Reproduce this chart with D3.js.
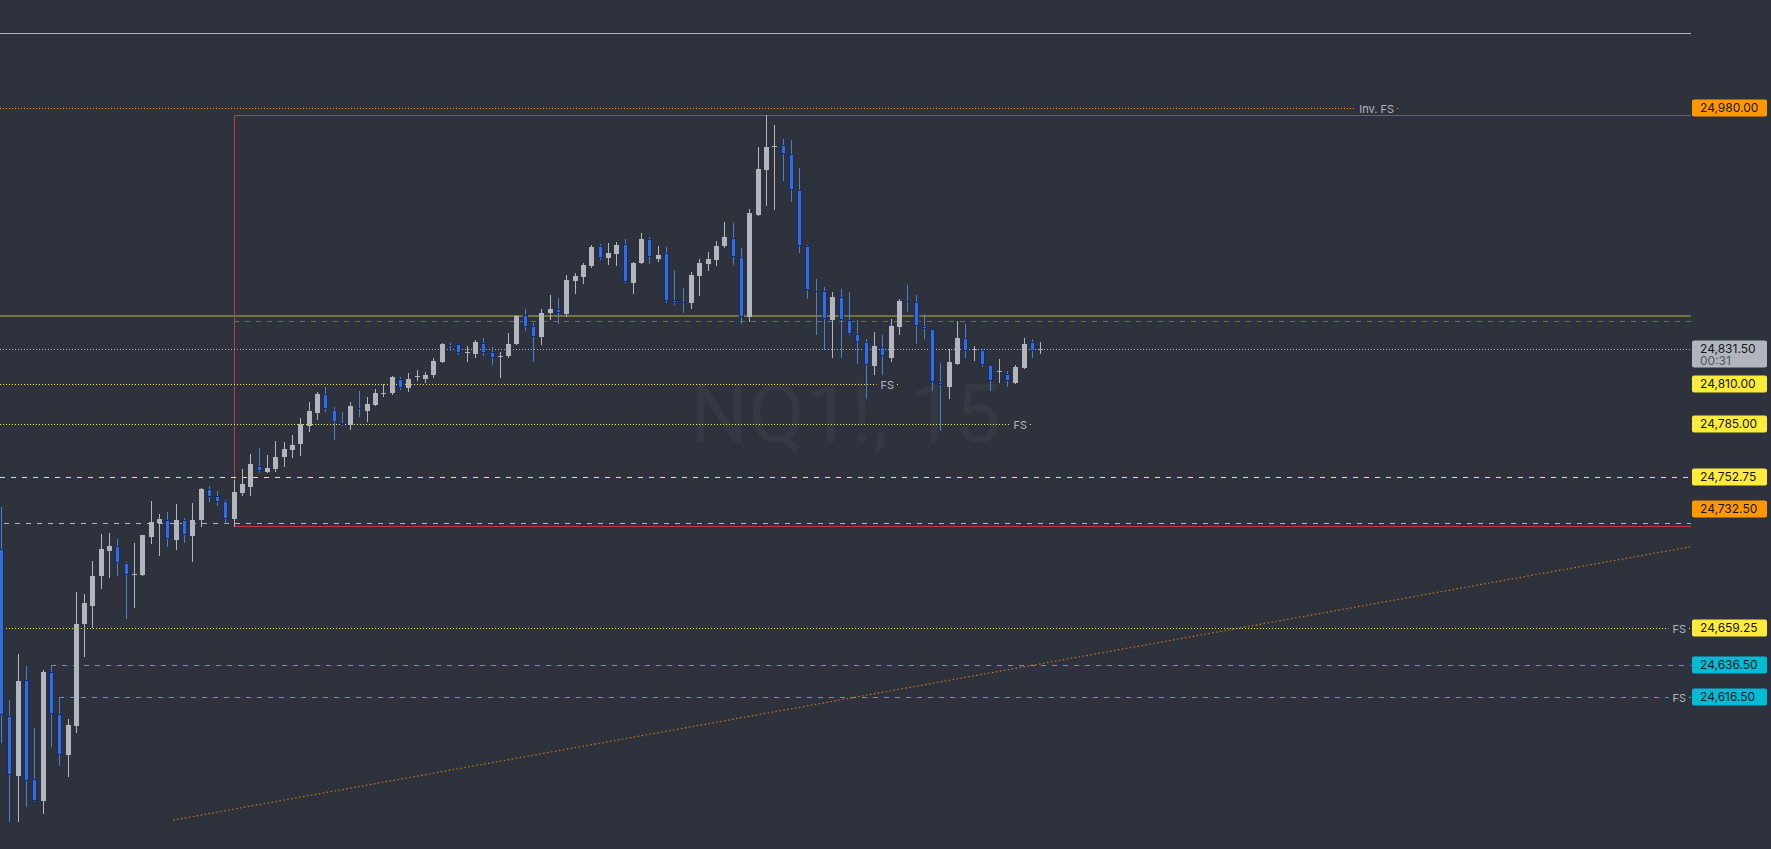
<!DOCTYPE html>
<html>
<head>
<meta charset="utf-8">
<script src="https://cdn.jsdelivr.net/npm/d3@7"></script>
<style>
  html, body { margin: 0; padding: 0; background: #2e323c; overflow: hidden; }
  svg { display: block; }
</style>
</head>
<body>
<svg id="chart" width="1771" height="849"></svg>
<script>
// NQ1! 15-minute candles (oldest first)
const opens = [24707.75,24605.25,24568,24627.25,24566,24552.75,24632,24606,24581,24598.5,
  24662,24673,24691.5,24707,24709.75,24699.25,24692.25,24692.25,24715.5,24724,
  24725.75,24713.75,24725.75,24716.25,24726,24745,24740.5,24737.5,24726.5,24742.75,
  24746.5,24759.25,24755.5,24757.5,24765,24769.25,24772.75,24784,24792.25,24803.5,
  24794,24785.75,24784.75,24794.75,24793.5,24797,24804.25,24804.5,24813.25,24807.5,
  24814.5,24813,24815.5,24823.5,24834,24834.25,24829.25,24828.25,24835,24829.5,
  24827,24827,24834.75,24852.25,24845.5,24839,24853.75,24856.25,24853,24873.5,
  24876,24882.75,24895,24887.5,24890,24896.25,24872.25,24884.5,24899.25,24887,
  24890.75,24861.75,24860.25,24860,24876.5,24884,24886.5,24895,24900,24888,
  24851.5,24914.25,24942,24956.75,24957.25,24951.5,24929.5,24894.75,24867.25,24867,
  24849.5,24863.25,24849.25,24841,24835.5,24821.25,24832.5,24826,24845.25,24861,
  24860.25,24845.5,24843.5,24811,24808.25,24822.5,24838,24831,24830.75,24821.75,
  24817.5,24816.25,24810.75,24820,24835.5,24831.25];
const highs = [24734,24614.75,24643.25,24635.75,24597.75,24633.25,24636.25,24616.5,24603,24681.25,
  24680.25,24700.5,24717.25,24718,24714.25,24700,24711.75,24716.75,24737.75,24729.5,
  24730.75,24735.75,24727.25,24736.5,24745.75,24747,24743.75,24738,24750.5,24757.5,
  24766.75,24770.25,24766,24774.75,24774,24778.5,24789,24798.75,24804.75,24808,
  24795.5,24792.5,24798.75,24805.5,24801.75,24806.75,24809.75,24814.75,24814,24816.75,
  24818.5,24817.25,24826,24835.25,24835.25,24834.5,24833.25,24837,24838.25,24832.75,
  24829.5,24841.25,24852.5,24856.25,24847.5,24856.25,24864.75,24863,24877,24878.25,
  24884.5,24895.75,24896.25,24896.75,24897.5,24899.25,24885.25,24903,24900.5,24895,
  24894.5,24880.25,24869,24879,24887,24891.25,24898,24909.75,24909.25,24893.75,
  24917.75,24956,24975.75,24969.75,24961,24960.5,24943.25,24895.5,24874.75,24869.75,
  24866.5,24868.5,24866.5,24849.25,24837.75,24842,24840.25,24850.25,24862.25,24871.25,
  24865,24853.25,24843.5,24823,24831.75,24849,24847,24833.5,24831.25,24821.75,
  24825.5,24818,24821.5,24838.5,24837.75,24835.5];
const lows = [24589,24540.25,24540.25,24549.5,24552.25,24545.25,24586.75,24574.75,24568,24595,
  24642,24660,24684,24691,24692.25,24665.5,24672.5,24692.25,24712,24704.25,
  24710,24708.25,24712.5,24700.75,24722.5,24737.75,24735.25,24724,24722.25,24741.25,
  24741.25,24755.75,24755.5,24756.25,24759.25,24765,24766.25,24781,24788.5,24793.5,
  24776,24784.25,24782.25,24790.25,24787.25,24797,24802.25,24803.75,24807,24805.75,
  24812.25,24811,24814.25,24823.5,24830.75,24828.25,24824,24826.75,24827.75,24822.25,
  24814.25,24826.5,24834.75,24843.25,24824,24834.75,24850,24847.75,24852,24866,
  24872.25,24882,24887,24884,24883.25,24872.5,24866,24884.5,24884.5,24885.75,
  24860.5,24859.5,24854.25,24856.75,24864.75,24880.25,24883.25,24894.5,24884,24847.75,
  24849,24914.25,24920.5,24918,24936,24923,24891.5,24863,24841,24831.75,
  24826.75,24826.75,24840.5,24823,24801.5,24816.25,24816.25,24824.25,24841,24855,
  24835.25,24838.5,24806.25,24781.75,24801.5,24822.5,24826.75,24824.75,24821.25,24806.25,
  24811.25,24808.75,24810.75,24820,24826.75,24829.25];
const closes = [24605.5,24568.5,24626.5,24564.75,24552.25,24632,24606,24580.75,24599.5,24661.75,
  24674.75,24691.25,24708,24710,24699.25,24692.25,24692.5,24716.75,24724.75,24726.5,
  24714.5,24726,24716.5,24726,24745,24740.25,24737.25,24726.75,24743.25,24748.25,
  24760.5,24756.25,24758,24764.75,24769.75,24772.25,24785.25,24793.25,24803.75,24794.25,
  24786.5,24784.25,24796,24794.5,24797.5,24804.25,24804.5,24814.25,24807.5,24813.25,
  24814.75,24815.5,24824,24834.5,24833.75,24828.75,24829.5,24835.75,24828.75,24826,
  24827.25,24834.5,24851.75,24845.25,24839,24853.75,24856.25,24853.75,24874,24876.5,
  24883.25,24894.5,24887.75,24890.75,24895.75,24872.5,24884.5,24899.25,24888,24889.5,
  24861.25,24860,24860,24877,24884.5,24887,24895,24900.5,24888,24851.5,
  24915.5,24942.5,24956,24957,24951.5,24929.5,24894.75,24867.75,24867,24849.75,
  24863.5,24849.25,24841,24835.5,24821.5,24833.25,24827,24845.75,24861,24860.75,
  24845.5,24843.5,24811,24809,24823.5,24838.5,24830,24831.25,24821.75,24812,
  24817.75,24811.5,24820.25,24834.25,24830,24831.5];

// Horizontal drawings: price, first bar (null = from left edge), last bar (null = to price scale), text
const levelPrices = [25026.75, 24980, 24852, 24849, 24831.5, 24810, 24785, 24752.75, 24724, 24659.25, 24636.5, 24616.5];
const levelStart  = [null, null, null, 28, null, null, null, null, 0.36, 0.6, 6, 7];
const levelEnd    = [null, 168.15, null, null, null, 108, 124, null, null, null, null, null];
const levelText   = ["", "Inv. FS", "", "", "", "FS", "FS", "", "", "FS", "", "FS"];
const levelKind   = ["white", "orangeDot", "olive", "redDash", "lastDot", "yellowDot", "yellowDot", "yellowDash", "whiteDash", "yellowDot", "cyanDash", "cyanDash"];

// Range box (Inv. FS zone)
const boxStartBar = 28;
const boxTop = 24975.75;
const boxBottom = 24722;

// Trend line anchors [bar, price]
const trendFrom = [20.7, 24540.75];
const trendTo = [203.3, 24709.5];

// Price scale labels
const labelPrices = [24980, 24831.5, 24810, 24785, 24752.75, 24732.5, 24659.25, 24636.5, 24616.5];
const labelKind = ["orange", "last", "yellow", "yellow", "yellow", "orange", "yellow", "cyan", "cyan"];
const countdown = "00:31";
const symbolTitle = "NQ1!, 15";

// ---- styling ----
const W = 1771, H = 849, paneW = 1691;
const BG = "#2e323c";
const UP = "#b2b5be";
const DOWN_FILL = "#3b6ecc", DOWN_EDGE = "#0d2b80", DOWN_WICK = "#4c7fd0";
const lineStyle = {
  white:      { stroke: "#b2b5be", dash: null,  w: 1 },
  orangeDot:  { stroke: "#ff9800", dash: "1,2", w: 1 },
  olive:      { stroke: "#737039", dash: null,  w: 2 },
  redDash:    { stroke: "#e0374a", dash: "5,6", w: 1 },
  lastDot:    { stroke: "#b2b5be", dash: "1,2", w: 1 },
  yellowDot:  { stroke: "#ffeb3b", dash: "1,2", w: 1 },
  yellowDash: { stroke: "#ffeb3b", dash: "5,6", w: 1 },
  whiteDash:  { stroke: "#b2b5be", dash: "5,6", w: 1 },
  cyanDash:   { stroke: "#1fb6cf", dash: "5,6", w: 1 }
};
const labelFill = { orange: "#ff9800", yellow: "#ffeb3b", cyan: "#00bcd4", last: "#b2b5be" };

const svg = d3.select("#chart");
svg.append("rect").attr("width", W).attr("height", H).attr("fill", BG);

const x = d3.scaleLinear().domain([0, 125]).range([1, 1040.25]);
const y = d3.scaleLinear().domain([24522.9, 25046.83]).range([H, 0]);

const defs = svg.append("defs");
defs.append("clipPath").attr("id", "pane").append("rect").attr("width", paneW).attr("height", H);
const pane = svg.append("g").attr("clip-path", "url(#pane)");

// watermark
pane.append("text")
  .attr("x", paneW / 2).attr("y", 442)
  .attr("text-anchor", "middle")
  .attr("font-family", "Roboto, 'Noto Sans', sans-serif")
  .attr("font-size", 82)
  .attr("fill", "#353944")
  .text(symbolTitle);

const snap = v => Math.round(v) + 0.5;

// box
const bx = snap(x(boxStartBar));
pane.append("path")
  .attr("d", `M${paneW + 5},${snap(y(boxTop))}H${bx}V${snap(y(boxBottom))}H${paneW + 5}`)
  .attr("fill", "none").attr("stroke", "#c9344a").attr("stroke-width", 1);

// trend line
pane.append("line")
  .attr("x1", x(trendFrom[0])).attr("y1", y(trendFrom[1]))
  .attr("x2", x(trendTo[0])).attr("y2", y(trendTo[1]))
  .attr("stroke", "#d2761a").attr("stroke-width", 1.2).attr("stroke-dasharray", "1.5,2.5");

// horizontal levels
levelPrices.forEach((p, i) => {
  const st = lineStyle[levelKind[i]];
  const yy = st.w === 2 ? Math.round(y(p)) : snap(y(p));
  const x0 = levelStart[i] === null ? 0 : Math.round(x(levelStart[i]));
  const x1 = levelEnd[i] === null ? paneW : Math.round(x(levelEnd[i]));
  const g = pane.append("g");
  const seg = (a, b) => g.append("line")
    .attr("x1", a).attr("x2", b).attr("y1", yy).attr("y2", yy)
    .attr("stroke", st.stroke).attr("stroke-width", st.w)
    .attr("stroke-dasharray", st.dash);
  if (levelText[i]) {
    const t = g.append("text")
      .attr("y", yy + 4)
      .attr("text-anchor", "middle")
      .attr("font-family", "Inter, Roboto, sans-serif")
      .attr("font-size", 11)
      .attr("fill", "#b2b5be")
      .text(levelText[i]);
    const tw = t.node().getComputedTextLength();
    const cx = x1 - tw / 2 - 5;
    t.attr("x", cx);
    seg(x0, x1 - tw - 9);
    seg(x1 - 2, x1);
  } else {
    seg(x0, x1);
  }
});

// candles
const idx = d3.range(opens.length);
const candles = pane.append("g").attr("shape-rendering", "crispEdges");
candles.selectAll("line.wick").data(idx).join("line")
  .attr("class", "wick")
  .attr("x1", i => snap(x(i))).attr("x2", i => snap(x(i)))
  .attr("y1", i => Math.round(y(highs[i]))).attr("y2", i => Math.round(y(lows[i])) + 1)
  .attr("stroke", i => closes[i] >= opens[i] ? UP : DOWN_WICK)
  .attr("stroke-width", 1);

candles.selectAll("rect.body").data(idx).join("rect")
  .attr("class", "body")
  .each(function (i) {
    const up = closes[i] >= opens[i];
    const cx = Math.round(x(i));
    const top = Math.round(y(Math.max(opens[i], closes[i])));
    const bot = Math.round(y(Math.min(opens[i], closes[i])));
    const h = Math.max(1, bot - top);
    const r = d3.select(this);
    if (up) {
      r.attr("x", cx - 2).attr("y", top).attr("width", 5).attr("height", h).attr("fill", UP);
    } else if (h < 3) {
      r.attr("x", cx - 2).attr("y", top).attr("width", 5).attr("height", Math.max(h, 1)).attr("fill", DOWN_EDGE);
    } else {
      r.attr("x", cx - 1.5).attr("y", top + 0.5).attr("width", 4).attr("height", h - 1)
        .attr("fill", DOWN_FILL).attr("stroke", DOWN_EDGE).attr("stroke-width", 1);
    }
  });

// price scale labels
const fmt = d3.format(",.2f");
const lab = svg.append("g");
labelPrices.forEach((p, i) => {
  const k = labelKind[i];
  const cy = Math.round(y(p));
  const hgt = k === "last" ? 27 : 17;
  lab.append("rect")
    .attr("x", 1692).attr("y", cy - 8.5).attr("width", 75).attr("height", hgt)
    .attr("rx", 2).attr("fill", labelFill[k]);
  lab.append("text")
    .attr("x", 1700).attr("y", cy + 4)
    .attr("font-family", "Inter, Roboto, sans-serif").attr("font-size", 12)
    .attr("fill", "#131722")
    .text(fmt(p));
  if (k === "last") {
    lab.append("text")
      .attr("x", 1700).attr("y", cy + 16)
      .attr("font-family", "Inter, Roboto, sans-serif").attr("font-size", 12)
      .attr("fill", "#50535e")
      .text(countdown);
  }
});
</script>
</body>
</html>
